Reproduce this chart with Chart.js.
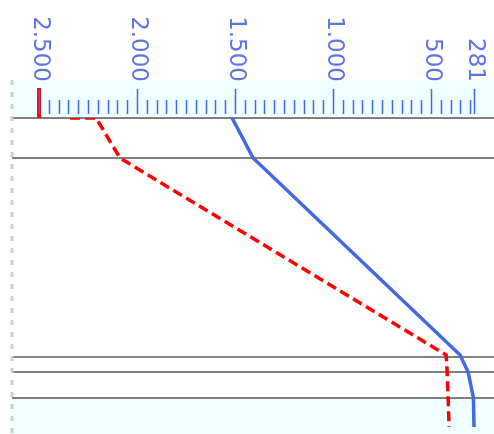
<!DOCTYPE html>
<html>
<head>
<meta charset="utf-8">
<script src="https://cdn.jsdelivr.net/npm/chart.js@4.4.1/dist/chart.umd.min.js"></script>
<style>
  html, body { margin: 0; padding: 0; background: #fff; }
  canvas { display: block; }
</style>
</head>
<body>
<canvas id="perfil" width="494" height="434"></canvas>
<script>
// Tramos del recorrido (km) donde se dibujan las líneas horizontales
const tramos = [0, 4.0, 23.9, 25.4, 28.0];

// Serie azul: altitud (m) por km
const kmAzul = [0, 4.0, 23.7, 25.4, 28.0, 30.9];
const altAzul = [1515, 1408, 352, 311, 284, 281];

// Serie roja (discontinua)
const kmRojo = [0, 0, 4.0, 23.7, 25.4, 28.0, 30.9];
const altRojo = [2342, 2209, 2087, 423, 418, 413, 408];

// Etiquetas del eje superior
const etiquetas = [2500, 2000, 1500, 1000, 500, 281];
const marcaRoja = 2500;

const AZUL = '#4169e1';
const ROJO = '#ff0000';
const FONDO = '#effefe';

function puntos(kms, alts) {
    return kms.map((km, i) => ({ x: alts[i], y: km }));
}

function formato(valor) {
    return valor.toLocaleString('de-DE');
}

// Marcas menores cada 50 m, mayores en las etiquetas
function marcasMenores() {
    const lista = [];
    for (let v = 300; v < 2500; v += 50) {
        if (v % 500 !== 0) lista.push(v);
    }
    return lista;
}

const ejeSuperior = {
    id: 'ejeSuperior',
    beforeDraw(chart) {
        const ctx = chart.ctx;
        const area = chart.chartArea;
        const y = chart.scales.y;
        ctx.save();
        ctx.fillStyle = FONDO;
        ctx.fillRect(area.left, 80, area.right - area.left, area.top - 80);
        const yFin = y.getPixelForValue(tramos[tramos.length - 1]);
        ctx.fillRect(area.left, yFin, area.right - area.left, area.bottom - yFin);
        ctx.restore();
    },
    afterDraw(chart) {
        const ctx = chart.ctx;
        const area = chart.chartArea;
        const x = chart.scales.x;
        ctx.save();

        // línea punteada a la izquierda
        ctx.strokeStyle = '#d0d0d0';
        ctx.lineWidth = 3;
        ctx.setLineDash([5, 7]);
        ctx.beginPath();
        ctx.moveTo(area.left, 80);
        ctx.lineTo(area.left, area.bottom);
        ctx.stroke();
        ctx.setLineDash([]);

        // marca roja
        const xr = x.getPixelForValue(marcaRoja);
        ctx.strokeStyle = ROJO;
        ctx.lineWidth = 4;
        ctx.beginPath();
        ctx.moveTo(xr, 88);
        ctx.lineTo(xr, area.top);
        ctx.stroke();

        ctx.strokeStyle = AZUL;
        ctx.lineWidth = 1.5;
        ctx.beginPath();
        marcasMenores().forEach(v => {
            const px = Math.round(x.getPixelForValue(v)) + 0.5;
            ctx.moveTo(px, 100);
            ctx.lineTo(px, 114);
        });
        etiquetas.forEach(v => {
            const px = Math.round(x.getPixelForValue(v)) + 0.5;
            ctx.moveTo(px, 89);
            ctx.lineTo(px, 114);
        });
        ctx.stroke();

        ctx.fillStyle = '#5f73e8';
        ctx.font = '23px "DejaVu Sans"';
        ctx.textAlign = 'right';
        ctx.textBaseline = 'middle';
        etiquetas.forEach(v => {
            ctx.save();
            ctx.translate(x.getPixelForValue(v) + 1, 82);
            ctx.rotate(Math.PI / 2);
            ctx.fillText(formato(v), 0, 0);
            ctx.restore();
        });
        ctx.restore();
    }
};

new Chart(document.getElementById('perfil'), {
    type: 'scatter',
    data: {
        datasets: [
            {
                data: puntos(kmAzul, altAzul),
                borderColor: AZUL,
                borderWidth: 3.5,
                showLine: true,
                pointRadius: 0
            },
            {
                data: puntos(kmRojo, altRojo),
                borderColor: ROJO,
                borderWidth: 3.5,
                borderDash: [10, 5],
                showLine: true,
                pointRadius: 0
            }
        ]
    },
    options: {
        responsive: false,
        animation: false,
        layout: { padding: 0 },
        plugins: {
            legend: { display: false },
            tooltip: { enabled: false }
        },
        scales: {
            x: {
                position: 'top',
                reverse: true,
                min: 179,
                max: 2638,
                ticks: { display: false },
                grid: { display: false },
                border: { display: false },
                afterFit: s => { s.height = 118; }
            },
            y: {
                reverse: true,
                min: 0,
                max: 31.6,
                ticks: { display: false },
                grid: { color: '#808080', lineWidth: 2, drawTicks: false },
                border: { display: false },
                afterBuildTicks: s => { s.ticks = tramos.map(v => ({ value: v })); },
                afterFit: s => { s.width = 12; }
            }
        }
    },
    plugins: [ejeSuperior]
});
</script>
</body>
</html>
